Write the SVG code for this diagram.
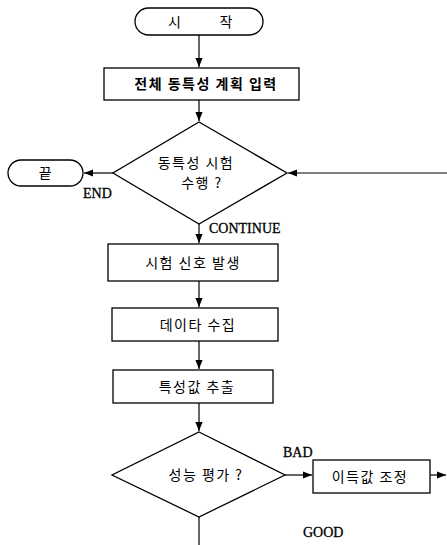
<svg xmlns="http://www.w3.org/2000/svg" width="447" height="545" viewBox="0 0 447 545">
<style>
.s{fill:#fff;stroke:#000;stroke-width:1.3}
.k{font-family:"Noto Sans CJK KR","Noto Sans",sans-serif;font-size:14px;letter-spacing:1.5px;fill:#000;text-anchor:middle}
.l{font-family:"Liberation Serif",serif;font-size:14px;fill:#000;stroke:#000;stroke-width:0.3}
.c{stroke:#000;stroke-width:1.2;fill:none}
</style>
<defs>
<marker id="a" viewBox="0 0 10 10" refX="10" refY="5" markerWidth="9" markerHeight="9" markerUnits="userSpaceOnUse" orient="auto">
<path d="M0,1 L10,5 L0,9 Z" fill="#000"/>
</marker>
</defs>
<rect x="0" y="0" width="447" height="545" fill="#fff"/>
<g id="connectors">
<line class="c" x1="199" y1="35" x2="199" y2="67" marker-end="url(#a)"/>
<line class="c" x1="199" y1="100" x2="199" y2="121" marker-end="url(#a)"/>
<line class="c" x1="113" y1="173" x2="84" y2="173" marker-end="url(#a)"/>
<line class="c" x1="447" y1="173" x2="288" y2="173" marker-end="url(#a)"/>
<line class="c" x1="199" y1="224" x2="199" y2="243" marker-end="url(#a)"/>
<line class="c" x1="199" y1="281" x2="199" y2="307" marker-end="url(#a)"/>
<line class="c" x1="199" y1="341" x2="199" y2="369" marker-end="url(#a)"/>
<line class="c" x1="199" y1="403" x2="199" y2="431" marker-end="url(#a)"/>
<line class="c" x1="285" y1="475" x2="312" y2="475" marker-end="url(#a)"/>
<line class="c" x1="430" y1="475" x2="446" y2="475" marker-end="url(#a)"/>
<line class="c" x1="199" y1="517" x2="199" y2="545"/>
<text class="l" x="83" y="198">END</text>
<text class="l" x="209" y="233">CONTINUE</text>
<text class="l" x="283" y="457">BAD</text>
<text class="l" x="303" y="537">GOOD</text>
</g>
<g id="start">
<rect class="s" x="135" y="8" width="128" height="27" rx="13.5"/>
<text class="k" x="201" y="27" xml:space="preserve">시        작</text>
</g>
<g id="plan">
<rect class="s" x="104" y="68" width="195" height="32"/>
<text class="k" x="206" y="89" font-weight="bold">전체 동특성 계획 입력</text>
</g>
<g id="decision1">
<polygon class="s" points="199,122 287,173 199,224 113,173"/>
<text class="k" x="196" y="168">동특성 시험</text>
<text class="k" x="202" y="188">수행 ?</text>
</g>
<g id="end">
<rect class="s" x="8" y="160" width="75" height="26" rx="13"/>
<text class="k" x="46" y="178">끝</text>
</g>
<g id="signal">
<rect class="s" x="108" y="244" width="170" height="37"/>
<text class="k" x="193" y="268">시험 신호 발생</text>
</g>
<g id="collect">
<rect class="s" x="112" y="308" width="166" height="33"/>
<text class="k" x="198" y="330">데이타 수집</text>
</g>
<g id="extract">
<rect class="s" x="113" y="370" width="160" height="33"/>
<text class="k" x="197" y="392">특성값 추출</text>
</g>
<g id="decision2">
<polygon class="s" points="199,432 285,475 199,517 112,475"/>
<text class="k" x="206" y="480">성능 평가 ?</text>
</g>
<g id="adjust">
<rect class="s" x="313" y="460" width="117" height="33"/>
<text class="k" x="370" y="482">이득값 조정</text>
</g>
</svg>
